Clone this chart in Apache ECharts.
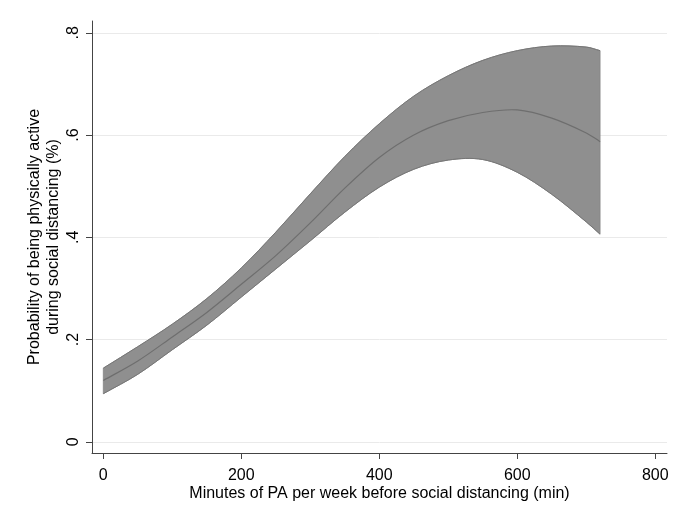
<!DOCTYPE html>
<html>
<head>
<meta charset="utf-8">
<script src="https://cdn.jsdelivr.net/npm/echarts@6/dist/echarts.min.js"></script>
<style>
html,body{margin:0;padding:0;background:#fff;}
#chart{width:688px;height:527px;}
</style>
</head>
<body>
<div id="chart"></div>
<script>
var minutes = [0, 50, 100, 150, 200, 250, 300, 350, 400, 450, 500, 550, 600, 650, 700, 720];
var prob = [0.120, 0.158, 0.205, 0.253, 0.308, 0.364, 0.428, 0.496, 0.556, 0.600, 0.628, 0.644, 0.649, 0.633, 0.604, 0.587];
var upperCI = [0.144, 0.186, 0.230, 0.280, 0.340, 0.410, 0.485, 0.558, 0.622, 0.676, 0.716, 0.746, 0.765, 0.774, 0.772, 0.765];
var lowerCI = [0.094, 0.132, 0.180, 0.228, 0.283, 0.338, 0.393, 0.449, 0.498, 0.533, 0.551, 0.552, 0.527, 0.484, 0.430, 0.406];
var xTicks = [0, 200, 400, 600, 800];
var yTicks = [0, 0.2, 0.4, 0.6, 0.8];
var yTickLabels = ['0', '.2', '.4', '.6', '.8'];

var font = 'Liberation Sans, Arial, Helvetica, sans-serif';

// Catmull-Rom spline through pixel points -> SVG path segments (rendering only)
function splinePath(pts, moveFirst) {
  var d = (moveFirst ? 'M' : 'L') + pts[0][0] + ',' + pts[0][1];
  for (var i = 0; i < pts.length - 1; i++) {
    var p0 = pts[Math.max(i - 1, 0)], p1 = pts[i], p2 = pts[i + 1], p3 = pts[Math.min(i + 2, pts.length - 1)];
    var seg = p2[0] - p1[0];
    var s1 = (p2[0] - p0[0]) !== 0 ? seg / (p2[0] - p0[0]) : 0.5;
    var s2 = (p3[0] - p1[0]) !== 0 ? seg / (p3[0] - p1[0]) : 0.5;
    var c1 = [p1[0] + (p2[0] - p0[0]) * s1 / 3, p1[1] + (p2[1] - p0[1]) * s1 / 3];
    var c2 = [p2[0] - (p3[0] - p1[0]) * s2 / 3, p2[1] - (p3[1] - p1[1]) * s2 / 3];
    d += 'C' + c1[0] + ',' + c1[1] + ' ' + c2[0] + ',' + c2[1] + ' ' + p2[0] + ',' + p2[1];
  }
  return d;
}

function renderBand(params, api) {
  if (params.dataIndex !== 0) return;
  var up = minutes.map(function (m, i) { return api.coord([m, upperCI[i]]); });
  var lo = minutes.map(function (m, i) { return api.coord([m, lowerCI[i]]); });
  var md = minutes.map(function (m, i) { return api.coord([m, prob[i]]); });
  var loRev = lo.slice().reverse();
  var fill = splinePath(up, true) + splinePath(loRev, false) + 'Z';
  return {
    type: 'group',
    children: [
      {type: 'path', shape: {pathData: fill}, style: {fill: '#8f8f8f', stroke: '#858585', lineWidth: 0.8}},
      {type: 'path', shape: {pathData: splinePath(up, true)}, style: {fill: null, stroke: '#767676', lineWidth: 1}},
      {type: 'path', shape: {pathData: splinePath(lo, true)}, style: {fill: null, stroke: '#767676', lineWidth: 1}},
      {type: 'path', shape: {pathData: splinePath(md, true)}, style: {fill: null, stroke: '#6e6e6e', lineWidth: 1.2}}
    ]
  };
}

var chart = echarts.init(document.getElementById('chart'), null, {renderer: 'canvas'});
chart.setOption({
  backgroundColor: '#fff',
  animation: false,
  grid: {left: 92, right: 21, top: 21, bottom: 74},
  xAxis: {
    type: 'value',
    min: -16.4,
    max: 817,
    name: 'Minutes of PA per week before social distancing (min)',
    nameLocation: 'middle',
    nameGap: 33,
    nameMoveOverlap: false,
    nameTextStyle: {fontFamily: font, fontSize: 16, color: '#000'},
    axisLine: {show: true, onZero: false, lineStyle: {color: '#444', width: 1}},
    axisTick: {show: true, length: 6, customValues: xTicks, lineStyle: {color: '#444'}},
    axisLabel: {customValues: xTicks, margin: 15, fontFamily: font, fontSize: 16, color: '#000'},
    splitLine: {show: false}
  },
  yAxis: {
    type: 'value',
    min: -0.022,
    max: 0.823,
    name: 'Probability of being physically active\nduring social distancing (%)',
    nameLocation: 'middle',
    nameGap: 29,
    nameMoveOverlap: false,
    nameTextStyle: {fontFamily: font, fontSize: 16, color: '#000', lineHeight: 19},
    axisLine: {show: true, onZero: false, lineStyle: {color: '#444', width: 1}},
    axisTick: {show: true, length: 6, customValues: yTicks, lineStyle: {color: '#444'}},
    axisLabel: {
      customValues: yTicks, rotate: 90, margin: 10, fontFamily: font, fontSize: 16, color: '#000',
      formatter: function (v) {
        var i = yTicks.findIndex(function (t) { return Math.abs(t - v) < 1e-6; });
        return i >= 0 ? yTickLabels[i] : '';
      }
    },
    splitLine: {show: false}
  },
  series: [
    {
      type: 'line', data: [], z: 0, silent: true,
      markLine: {
        z: 0, silent: true, symbol: 'none', label: {show: false}, animation: false,
        lineStyle: {color: '#eaeaea', width: 1, type: 'solid'},
        data: yTicks.map(function (t) { return {yAxis: t}; })
      }
    },
    {
      type: 'custom', z: 3, silent: true,
      data: [[minutes[0], prob[0]]],
      renderItem: renderBand
    }
  ]
});
</script>
</body>
</html>
